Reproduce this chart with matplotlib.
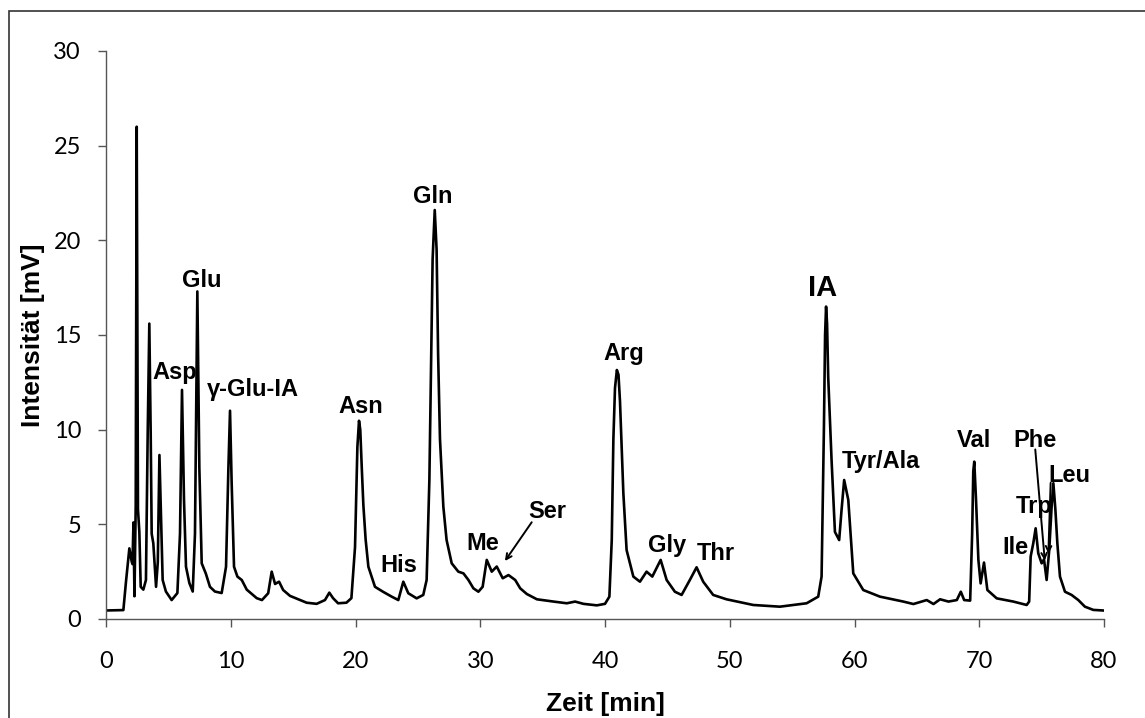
import matplotlib.pyplot as plt
from matplotlib.patches import Rectangle

# Chromatogramm
zeit = [0.0, 1.39, 1.6, 1.87, 2.06, 2.12, 2.2, 2.28, 2.38, 2.46, 2.56, 2.67, 2.78, 2.99,
        3.2, 3.34, 3.47, 3.58, 3.66, 3.79, 4.01, 4.15, 4.28, 4.41, 4.54, 4.8, 5.26, 5.72,
        5.93, 6.09, 6.25, 6.41, 6.68, 6.95, 7.13, 7.32, 7.48, 7.67, 8.0, 8.33, 8.73, 9.27,
        9.62, 9.81, 9.94, 10.07, 10.26, 10.53, 10.88, 11.28, 12.08, 12.5, 13.0, 13.28,
        13.55, 13.87, 14.2, 14.75, 15.55, 16.08, 16.88, 17.55, 17.9, 18.2, 18.6, 19.27,
        19.67, 19.96, 20.15, 20.28, 20.38, 20.5, 20.63, 20.81, 21.03, 21.56, 22.2, 22.9,
        23.43, 23.83, 24.23, 24.9, 25.43, 25.7, 25.92, 26.05, 26.18, 26.35, 26.5, 26.62,
        26.77, 27.04, 27.3, 27.71, 28.24, 28.65, 29.05, 29.45, 29.85, 30.19, 30.52, 30.92,
        31.32, 31.8, 32.26, 32.8, 33.2, 33.73, 34.54, 35.87, 36.94, 37.6, 38.27, 39.34,
        40.0, 40.35, 40.54, 40.67, 40.8, 40.95, 41.08, 41.2, 41.34, 41.47, 41.73, 42.27,
        42.8, 43.33, 43.79, 44.46, 44.94, 45.6, 46.14, 46.8, 47.34, 47.87, 48.67, 49.74,
        51.88, 54.02, 56.16, 57.09, 57.36, 57.55, 57.64, 57.72, 57.8, 57.89, 58.16, 58.43,
        58.77, 58.96, 59.17, 59.5, 59.9, 60.7, 62.04, 63.91, 64.72, 65.79, 66.33, 66.86,
        67.53, 68.2, 68.52, 68.79, 69.27, 69.43, 69.52, 69.6, 69.74, 69.93, 70.11, 70.38,
        70.65, 71.4, 72.73, 73.8, 74.0, 74.12, 74.33, 74.52, 74.73, 75.0, 75.19, 75.4,
        75.61, 75.8, 75.94, 76.1, 76.26, 76.47, 76.87, 77.4, 77.94, 78.47, 79.14, 79.9]
intensitaet = [0.45, 0.47, 1.97, 3.73, 3.03, 2.9, 5.1, 1.2, 6.0, 26.0, 5.8, 4.6, 1.7, 1.55,
               2.06, 9.8, 15.6, 9.8, 4.5, 4.0, 1.7, 3.0, 8.66, 5.4, 2.06, 1.45, 1.0, 1.37,
               4.5, 12.1, 6.3, 2.76, 1.9, 1.45, 4.5, 17.3, 8.0, 2.94, 2.4, 1.7, 1.45, 1.37,
               2.76, 8.0, 11.0, 7.2, 2.76, 2.24, 2.06, 1.55, 1.1, 1.0, 1.36, 2.5,
               1.85, 1.97, 1.53, 1.22, 1.0, 0.86, 0.8, 1.0, 1.39, 1.1, 0.83, 0.86,
               1.1, 3.8, 9.1, 10.47, 10.0, 8.0, 6.0, 4.2, 2.76, 1.7, 1.44, 1.18,
               1.0, 1.97, 1.36, 1.09, 1.27, 2.06, 7.34, 13.0, 19.0, 21.6, 19.5, 14.0,
               9.5, 5.93, 4.17, 2.94, 2.5, 2.41, 2.06, 1.62, 1.44, 1.7, 3.12, 2.5,
               2.77, 2.15, 2.32, 2.06, 1.62, 1.32, 1.04, 0.92, 0.83, 0.92, 0.8, 0.72,
               0.8, 1.18, 4.17, 9.5, 12.2, 13.15, 12.9, 11.5, 9.0, 6.64, 3.64, 2.24,
               1.97, 2.5, 2.24, 3.12, 2.06, 1.44, 1.27, 2.06, 2.73, 1.97, 1.27, 1.04,
               0.74, 0.65, 0.83, 1.18, 2.24, 10.2, 15.0, 16.5, 15.6, 12.8, 8.4, 4.6,
               4.17, 5.75, 7.34, 6.29, 2.41, 1.53, 1.18, 0.92, 0.79, 1.0, 0.79, 1.04,
               0.92, 1.0, 1.44, 1.0, 0.97, 4.5, 7.8, 8.31, 6.3, 3.12, 1.88, 2.98,
               1.53, 1.09, 0.92, 0.74, 0.92, 3.3, 4.0, 4.79, 3.47, 2.94, 3.15, 2.06,
               3.65, 5.93, 7.17, 5.8, 4.0, 2.24, 1.44, 1.27, 1.0, 0.65, 0.48, 0.45]

# Peak-Beschriftungen
peaks = ['Asp', 'Glu', 'γ-Glu-IA', 'Asn', 'His', 'Gln', 'Me', 'Ser', 'Arg', 'Gly',
         'Thr', 'IA', 'Tyr/Ala', 'Val', 'Phe', 'Trp', 'Ile', 'Leu']
peak_pos = [(5.5, 13.0), (7.7, 17.9), (8.1, 12.1), (20.4, 11.2), (23.45, 2.8),
            (26.2, 22.3), (30.2, 4.0), (35.4, 5.7), (41.5, 14.0), (45.0, 3.9),
            (48.9, 3.45), (57.4, 17.5), (58.95, 8.3), (69.6, 9.45), (74.5, 9.45),
            (74.4, 5.95), (72.9, 3.8), (77.2, 7.6)]

fig = plt.figure(figsize=(11.45, 7.18), dpi=100)
ax = fig.add_axes([0.0926, 0.1379, 0.8716, 0.7911])

ax.plot(zeit, intensitaet, color='black', lw=1.9, solid_joinstyle='round')

for name, (x, y) in zip(peaks, peak_pos):
    ha = 'left' if name in ('γ-Glu-IA', 'Tyr/Ala') else 'center'
    size = 21 if name == 'IA' else 17
    ax.text(x, y, name, ha=ha, va='center', fontsize=size, fontweight='bold',
            family=['Liberation Sans', 'DejaVu Sans'])

# Pfeile
pfeil = dict(arrowstyle='->', color='black', lw=1.4)
ax.annotate('', xy=(31.85, 2.94), xytext=(34.25, 5.23), arrowprops=pfeil)
ax.annotate('', xy=(75.27, 2.94), xytext=(74.47, 9.1), arrowprops=pfeil)
ax.annotate('', xy=(75.53, 3.3), xytext=(75.73, 7.34), arrowprops=pfeil)

ax.set_xlim(0, 80)
ax.set_ylim(0, 30)
ax.set_xticks(range(0, 81, 10))
ax.set_yticks(range(0, 31, 5))
for s in ['top', 'right']:
    ax.spines[s].set_visible(False)
for s in ['left', 'bottom']:
    ax.spines[s].set_color('#555555')
    ax.spines[s].set_linewidth(1.0)
ax.tick_params(axis='x', direction='out', length=6, width=1, color='#555555',
               pad=17, labelsize=17)
ax.tick_params(axis='y', direction='out', length=6, width=1, color='#555555',
               pad=12, labelsize=17)
for lab in ax.get_xticklabels() + ax.get_yticklabels():
    lab.set_family('Lato')

ax.set_xlabel('Zeit [min]', fontsize=19, fontweight='bold', family='Liberation Sans')
ax.xaxis.set_label_coords(0.5, -0.128)
ax.set_ylabel('Intensität [mV]', fontsize=19, fontweight='bold', family='Liberation Sans')
ax.yaxis.set_label_coords(-0.061, 0.5)

# Rahmen wie in der Vorlage
fig.patches.append(Rectangle((9 / 1145, -0.05), 1.1, 1 - 11 / 718 + 0.05,
                             transform=fig.transFigure, fill=False,
                             edgecolor='#333333', lw=1.2))

fig.savefig('out.png', dpi=100)
